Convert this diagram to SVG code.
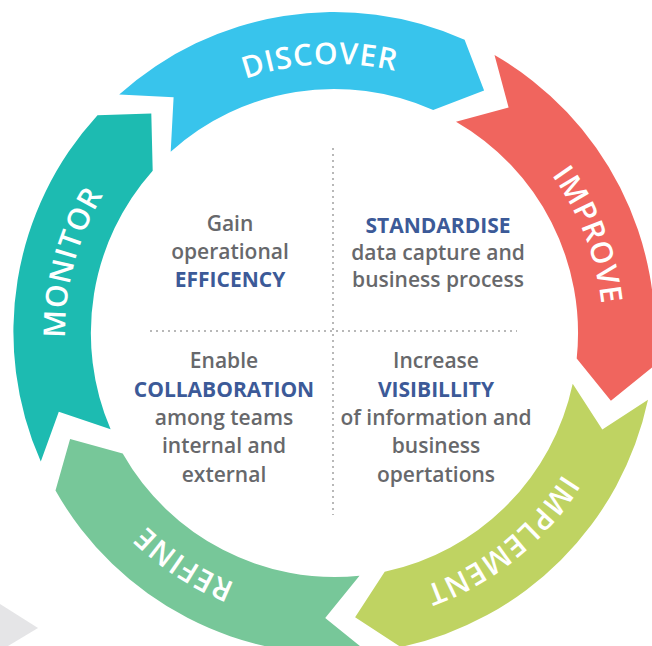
<svg xmlns="http://www.w3.org/2000/svg" xmlns:xlink="http://www.w3.org/1999/xlink" width="652" height="646" viewBox="0 0 652 646">
<style>
.lbl{font-family:"Open Sans","Noto Sans",sans-serif;font-weight:600;font-size:30px;letter-spacing:1px;fill:#ffffff}
.t{font-family:"Open Sans","Noto Sans",sans-serif;font-weight:600;font-size:21px;fill:#67686b;text-anchor:middle}
.b{font-weight:700;fill:#3c5a98}
.dot{stroke:#b8b8b8;stroke-width:2;stroke-dasharray:2 4;fill:none}
</style>
<defs>
<path id="ring" d="M 334 602 A 269 269 0 0 1 334 64 A 269 269 0 0 1 334 602"/>
</defs>
<rect width="652" height="646" fill="#ffffff"/>
<polygon points="0,604 38,628 8,646 0,646" fill="#e5e5e7"/>
<g id="discover">
<path d="M 119.2 94.5 A 321 321 0 0 1 464.6 39.8 L 484.1 90.6 L 433.2 110.1 A 244 244 0 0 0 170.7 151.7 L 173.6 97.3 Z" fill="#38c4ec"/>
<text class="lbl"><textPath href="#ring" xlink:href="#ring" startOffset="49.17%" text-anchor="middle">DISCOVER</textPath></text>
</g>
<g id="improve">
<path d="M 494.5 55.0 A 321 321 0 0 1 653.2 366.6 L 610.9 400.8 L 576.7 358.5 A 244 244 0 0 0 456.0 121.7 L 508.6 107.6 Z" fill="#f0655e"/>
<text class="lbl"><textPath href="#ring" xlink:href="#ring" startOffset="69.17%" text-anchor="middle">IMPROVE</textPath></text>
</g>
<g id="implement">
<path d="M 648.0 399.7 A 321 321 0 0 1 400.7 647.0 L 355.1 617.3 L 384.7 571.7 A 244 244 0 0 0 572.7 383.7 L 602.3 429.4 Z" fill="#bfd362"/>
<text class="lbl"><textPath href="#ring" xlink:href="#ring" startOffset="89.17%" text-anchor="middle">IMPLEMENT</textPath></text>
</g>
<g id="refine">
<path d="M 367.6 652.2 A 321 321 0 0 1 55.5 490.5 L 70.1 438.9 L 122.7 453.5 A 244 244 0 0 0 359.5 575.7 L 325.2 618.0 Z" fill="#77c799"/>
<text class="lbl"><textPath href="#ring" xlink:href="#ring" startOffset="9.17%" text-anchor="middle">REFINE</textPath></text>
</g>
<g id="monitor">
<path d="M 40.8 461.6 A 321 321 0 0 1 97.5 115.2 L 151.3 113.4 L 152.7 170.7 A 244 244 0 0 0 110.6 429.2 L 58.8 411.7 Z" fill="#1dbbb1"/>
<text class="lbl"><textPath href="#ring" xlink:href="#ring" startOffset="29.17%" text-anchor="middle">MONITOR</textPath></text>
</g>
<g id="connectors">
<line class="dot" x1="333" y1="148" x2="333" y2="515"/>
<line class="dot" x1="150" y1="331" x2="517" y2="331"/>
</g>
<g id="q-efficiency">
<text class="t" x="230" y="231">Gain</text>
<text class="t" x="230" y="259">operational</text>
<text class="t b" x="230" y="287">EFFICENCY</text>
</g>
<g id="q-standardise">
<text class="t b" x="438" y="233">STANDARDISE</text>
<text class="t" x="438" y="260">data capture and</text>
<text class="t" x="438" y="287">business process</text>
</g>
<g id="q-collaboration">
<text class="t" x="224" y="368">Enable</text>
<text class="t b" x="224" y="397">COLLABORATION</text>
<text class="t" x="224" y="425">among teams</text>
<text class="t" x="224" y="453">internal and</text>
<text class="t" x="224" y="482">external</text>
</g>
<g id="q-visibility">
<text class="t" x="436" y="368">Increase</text>
<text class="t b" x="436" y="397">VISIBILLITY</text>
<text class="t" x="436" y="425">of information and</text>
<text class="t" x="436" y="453">business</text>
<text class="t" x="436" y="482">opertations</text>
</g>
</svg>
